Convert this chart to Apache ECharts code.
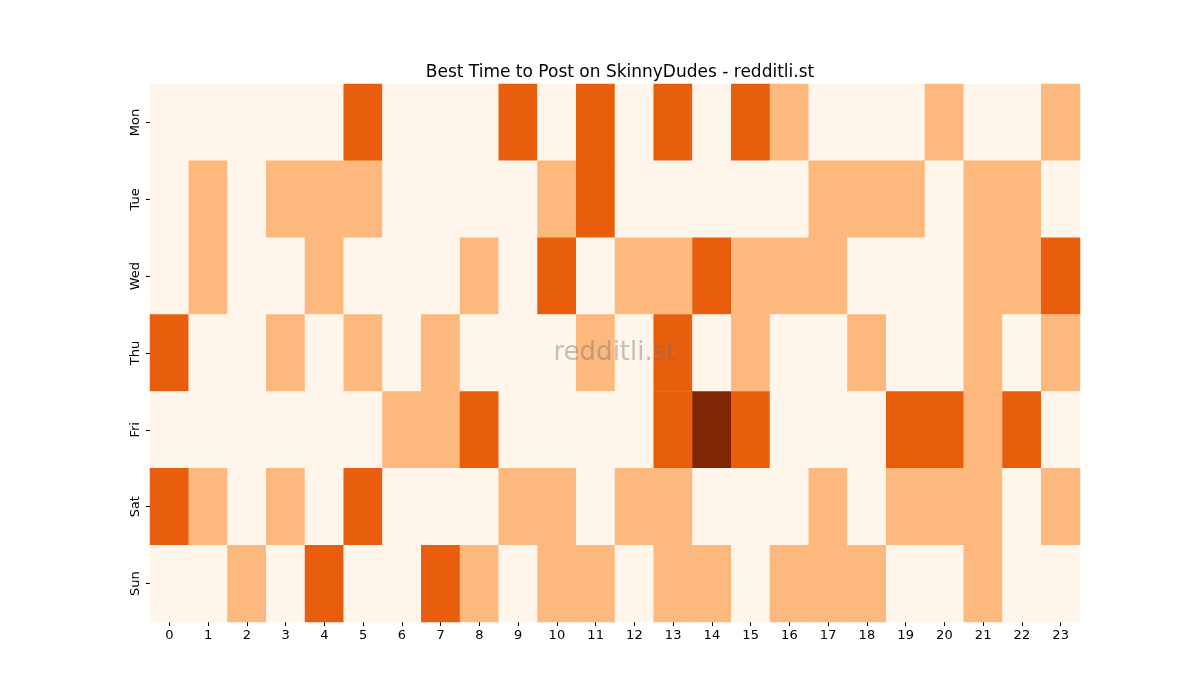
<!DOCTYPE html>
<html>
<head>
<meta charset="utf-8">
<script src="https://cdn.jsdelivr.net/npm/echarts@6/dist/echarts.min.js"></script>
<style>html,body{margin:0;padding:0;background:#fff;}#c{width:1200px;height:700px;}</style>
</head>
<body>
<div id="c"></div>
<script>
const hours = ['0','1','2','3','4','5','6','7','8','9','10','11','12','13','14','15','16','17','18','19','20','21','22','23'];
const days = ['Mon','Tue','Wed','Thu','Fri','Sat','Sun'];
const mon = [0,0,0,0,0,2,0,0,0,2,0,2,0,2,0,2,1,0,0,0,1,0,0,1];
const tue = [0,1,0,1,1,1,0,0,0,0,1,2,0,0,0,0,0,1,1,1,0,1,1,0];
const wed = [0,1,0,0,1,0,0,0,1,0,2,0,1,1,2,1,1,1,0,0,0,1,1,2];
const thu = [2,0,0,1,0,1,0,1,0,0,0,1,0,2,0,1,0,0,1,0,0,1,0,1];
const fri = [0,0,0,0,0,0,1,1,2,0,0,0,0,2,3,2,0,0,0,2,2,1,2,0];
const sat = [2,1,0,1,0,2,0,0,0,1,1,0,1,1,0,0,0,1,0,1,1,1,0,1];
const sun = [0,0,1,0,2,0,0,2,1,0,1,1,0,1,1,0,1,1,1,0,0,1,0,0];
const rows = [mon,tue,wed,thu,fri,sat,sun];
const data = [];
rows.forEach((r,yi)=>r.forEach((v,xi)=>data.push([xi,yi,v])));

const chart = echarts.init(document.getElementById('c'));
const font = 'DejaVu Sans';
chart.setOption({
  animation:false,
  backgroundColor:'#ffffff',
  title:{text:'Best Time to Post on SkinnyDudes - redditli.st',left:615,top:59,textAlign:'center',
    textStyle:{fontFamily:font,fontSize:17,fontWeight:'normal',color:'#000'}},
  grid:{left:150,top:84,width:930,height:538},
  xAxis:{type:'category',data:hours,splitArea:{show:false},
    axisLine:{show:false},
    axisTick:{show:true,alignWithLabel:true,length:4,lineStyle:{color:'#000'}},
    axisLabel:{fontFamily:font,fontSize:13,color:'#000',margin:7,interval:0}},
  yAxis:{type:'category',data:days,inverse:true,
    axisLine:{show:false},
    axisTick:{show:true,alignWithLabel:true,length:4,lineStyle:{color:'#000'}},
    axisLabel:{fontFamily:font,fontSize:13,color:'#000',rotate:90,margin:8,interval:0}},
  visualMap:{show:false,type:'piecewise',dimension:2,
    pieces:[{value:0,color:'#fff5eb'},{value:1,color:'#fdb97d'},{value:2,color:'#e95e0d'},{value:3,color:'#7f2704'}]},
  series:[{type:'heatmap',data:data,itemStyle:{borderWidth:0},emphasis:{disabled:true}}],
  graphic:[{type:'text',z:100,style:{text:'redditli.st',x:615,y:353,textAlign:'center',textVerticalAlign:'middle',
    font:'26px "DejaVu Sans"',fill:'rgba(110,110,110,0.4)'}}]
});
</script>
</body>
</html>
